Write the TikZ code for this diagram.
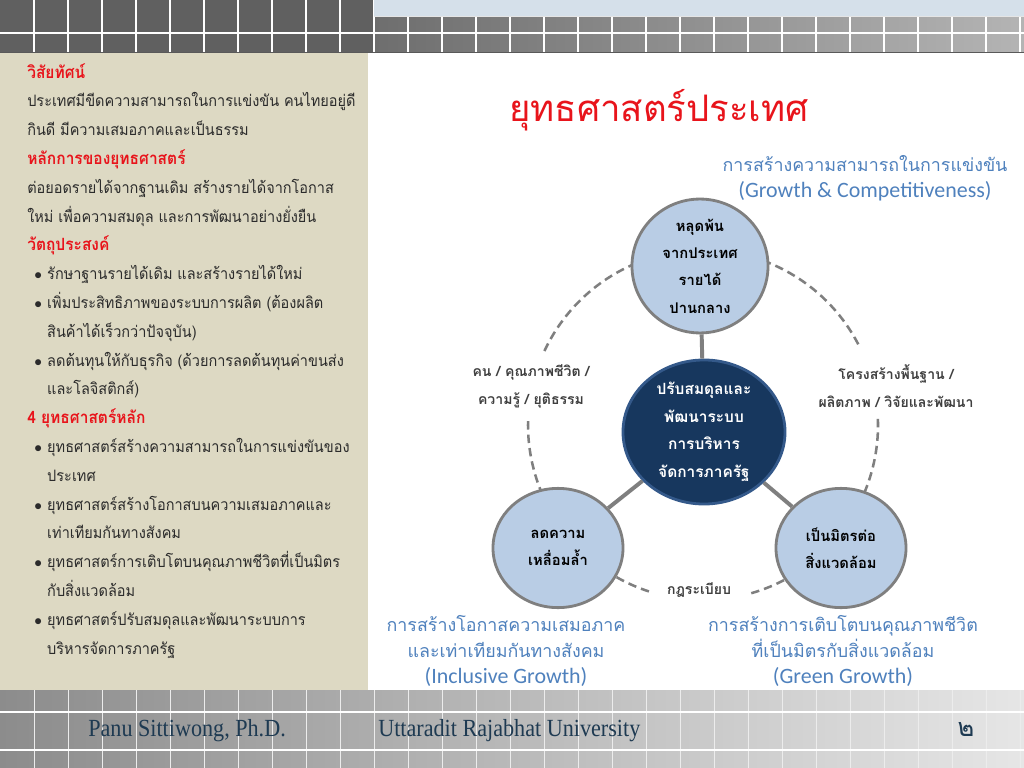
\documentclass[tikz,border=0pt]{standalone}
\usepackage{fontspec}
\setmainfont[Script=Thai]{Loma}
\newfontfamily\sidefont[Script=Thai, FakeStretch=0.92]{Loma}
\newfontfamily\latinfont{Carlito}
\newfontfamily\footfont[FakeStretch=0.9]{Liberation Serif}
\usetikzlibrary{shapes.geometric}

\definecolor{panelbeige}{HTML}{DDD9C3}
\definecolor{bodygray}{HTML}{2B2B2B}
\definecolor{headred}{HTML}{E8141B}
\definecolor{goalblue}{HTML}{4F81BD}
\definecolor{ringfill}{HTML}{B9CDE5}
\definecolor{ringgray}{HTML}{7F7F7F}
\definecolor{corenavy}{HTML}{17375E}
\definecolor{coreedge}{HTML}{34598A}
\definecolor{labelgray}{HTML}{3F3F3F}
\definecolor{bandleft}{HTML}{606060}
\definecolor{bandmid}{HTML}{6E6E6E}
\definecolor{bandlight}{HTML}{B4B4B4}
\definecolor{bandblue}{HTML}{D5E0EA}
\definecolor{footdark}{HTML}{8C8C8C}
\definecolor{footmid}{HTML}{D2D2D2}
\definecolor{footlight}{HTML}{E6E6E6}
\definecolor{footnavy}{HTML}{1E3A52}

\tikzset{
  outerring/.style={ellipse, draw=ringgray, line width=2pt, fill=ringfill, inner sep=0pt,
    minimum width=3.25cm, minimum height=2.98cm, align=center, text=black,
    font=\bfseries\fontsize{10.5pt}{19.5pt}\selectfont},
  corering/.style={outerring, fill=corenavy, draw=coreedge, text=white,
    minimum width=4.05cm, minimum height=3.6cm,
    font=\bfseries\fontsize{11pt}{19.6pt}\selectfont},
  spoke/.style={draw=ringgray, line width=2.8pt},
  ringdash/.style={draw=ringgray, line width=1.8pt, dash pattern=on 6pt off 3.6pt},
  goaltext/.style={align=center, text=goalblue, font=\fontsize{12.7pt}{18.6pt}\selectfont},
  tielabel/.style={align=center, text=labelgray, font=\bfseries\fontsize{10pt}{19.8pt}\selectfont},
  footline/.style={anchor=west, inner sep=0pt, text=footnavy, font=\footfont\fontsize{17.5pt}{19pt}\selectfont},
}
\newcommand{\sidebullet}{\hspace*{5pt}\makebox[9.2pt][l]{$\bullet$}}
\newcommand{\sideindent}{\hspace*{14.2pt}}
\newcommand{\sidehead}[1]{{\color{headred}\bfseries\fontsize{12pt}{20.48pt}\selectfont #1}}
\newcommand{\goallatin}[1]{{\latinfont\fontsize{15.6pt}{18.6pt}\selectfont #1}}

\begin{document}
\begin{tikzpicture}[x=0.025cm, y=-0.025cm]
	\useasboundingbox (0,0) rectangle (1024,768);
	\fill[white] (0,0) rectangle (1024,768);
	\fill[panelbeige] (0,53) rectangle (368,690);
	
	% top band
	\fill[bandleft] (0,0) rectangle (374,52);
	\shade[left color=bandmid, right color=bandlight] (374,16) rectangle (1024,52);
	\foreach \x in {34,68,...,1020} \draw[white, line width=0.8pt] (\x,0) -- (\x,52);
	\fill[bandblue] (374,0) rectangle (1024,16);
	\draw[white, line width=1.2pt] (0,33) -- (1024,33);
	\draw[white!80!gray] (374,16) -- (1024,16);
	\draw[gray!70!black, line width=1pt] (0,52.5) -- (1024,52.5);
	
	% footer band
	\shade[left color=footdark, middle color=footmid, right color=footlight] (0,690) rectangle (1024,768);
	\foreach \x in {34,68,...,1020} \draw[white!85!gray, line width=0.6pt] (\x,690) -- (\x,768);
	\draw[white, line width=0.8pt] (0,712) -- (1024,712);
	\draw[white, line width=0.8pt] (0,750) -- (1024,750);
	
	% left column
	\node[anchor=north west, inner sep=0pt, align=left, text=bodygray,
		font=\sidefont\fontsize{11.2pt}{20.48pt}\selectfont] (sidetext) at (27,63) {%
		\sidehead{วิสัยทัศน์}\\
		ประเทศมีขีดความสามารถในการแข่งขัน คนไทยอยู่ดี\\
		กินดี มีความเสมอภาคและเป็นธรรม\\
		\sidehead{หลักการของยุทธศาสตร์}\\
		ต่อยอดรายได้จากฐานเดิม สร้างรายได้จากโอกาส\\
		ใหม่ เพื่อความสมดุล และการพัฒนาอย่างยั่งยืน\\
		\sidehead{วัตถุประสงค์}\\
		\sidebullet รักษาฐานรายได้เดิม และสร้างรายได้ใหม่\\
		\sidebullet เพิ่มประสิทธิภาพของระบบการผลิต (ต้องผลิต\\
		\sideindent สินค้าได้เร็วกว่าปัจจุบัน)\\
		\sidebullet ลดต้นทุนให้กับธุรกิจ (ด้วยการลดต้นทุนค่าขนส่ง\\
		\sideindent และโลจิสติกส์)\\
		\sidehead{4 ยุทธศาสตร์หลัก}\\
		\sidebullet ยุทธศาสตร์สร้างความสามารถในการแข่งขันของ\\
		\sideindent ประเทศ\\
		\sidebullet ยุทธศาสตร์สร้างโอกาสบนความเสมอภาคและ\\
		\sideindent เท่าเทียมกันทางสังคม\\
		\sidebullet ยุทธศาสตร์การเติบโตบนคุณภาพชีวิตที่เป็นมิตร\\
		\sideindent กับสิ่งแวดล้อม\\
		\sidebullet ยุทธศาสตร์ปรับสมดุลและพัฒนาระบบการ\\
		\sideindent บริหารจัดการภาครัฐ};
	
	% title and goals
	\node[text=headred, font=\fontsize{26pt}{30pt}\selectfont] (title) at (659,110) {ยุทธศาสตร์ประเทศ};
	\node[goaltext] (topgoal) at (865,178) {การสร้างความสามารถในการแข่งขัน\\
		\goallatin{(Growth \& Competitiveness)}};
	
	% dashed ring
	\coordinate (hub) at (703,425);
	\draw[ringdash, domain=205:250, samples=40] plot ({703+175*cos(\x)},{425+175*sin(\x)});
	\draw[ringdash, domain=152:182, samples=30] plot ({703+175*cos(\x)},{425+175*sin(\x)});
	\draw[ringdash, domain=108:122, samples=20] plot ({703+175*cos(\x)},{425+175*sin(\x)});
	\draw[ringdash, domain=58:74, samples=20] plot ({703+175*cos(\x)},{425+175*sin(\x)});
	\draw[ringdash, domain=-2:28, samples=30] plot ({703+175*cos(\x)},{425+175*sin(\x)});
	\draw[ringdash, domain=290:334, samples=40] plot ({703+175*cos(\x)},{425+175*sin(\x)});
	
	\node[tielabel] (peoplelabel) at (531,386) {คน / คุณภาพชีวิต /\\ความรู้ / ยุติธรรม};
	\node[tielabel] (infralabel) at (896,386) {โครงสร้างพื้นฐาน /\\ผลิตภาพ / วิจัยและพัฒนา};
	\node[tielabel] (rulelabel) at (699,590) {กฎระเบียบ};
	
	% circles
	\node[outerring, minimum width=3.4cm, minimum height=3.05cm] (escape) at (700,266) {หลุดพ้น\\จากประเทศ\\รายได้\\ปานกลาง};
	\node[corering] (core) at (704,432) {ปรับสมดุลและ\\พัฒนาระบบ\\การบริหาร\\จัดการภาครัฐ};
	\node[outerring] (equity) at (558,548) {ลดความ\\เหลื่อมล้ำ};
	\node[outerring] (ecofriend) at (841,548) {เป็นมิตรต่อ\\สิ่งแวดล้อม};
	
	\draw[spoke] (escape) -- (core);
	\draw[spoke] (core) -- (equity);
	\draw[spoke] (core) -- (ecofriend);
	
	\node[goaltext] (inclusivegoal) at (506,651) {การสร้างโอกาสความเสมอภาค\\และเท่าเทียมกันทางสังคม\\
		\goallatin{(Inclusive Growth)}};
	\node[goaltext] (greengoal) at (843,651) {การสร้างการเติบโตบนคุณภาพชีวิต\\ที่เป็นมิตรกับสิ่งแวดล้อม\\
		\goallatin{(Green Growth)}};
	
	% footer
	\node[footline] (author) at (88,731) {Panu Sittiwong, Ph.D.};
	\node[footline] (univ) at (378,731) {Uttaradit Rajabhat University};
	\node[text=footnavy, font=\fontsize{18pt}{20pt}\selectfont] (pageno) at (966,729) {๒};
\end{tikzpicture}
\end{document}
